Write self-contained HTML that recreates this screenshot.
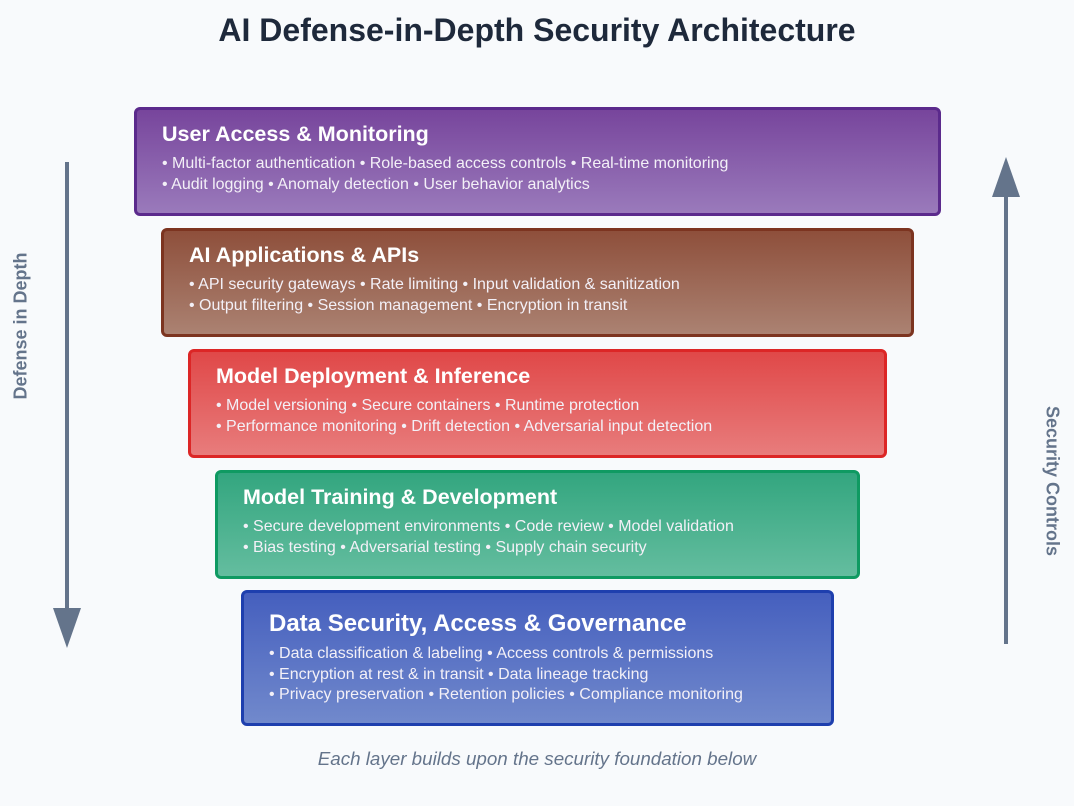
<!DOCTYPE html>
<html><head><style>
body{margin:0;width:1074px;height:806px;background:#f8fafc;font-family:"Liberation Sans",sans-serif;position:relative;overflow:hidden}
.t{position:absolute;left:0;width:1074px;text-align:center;top:12px;font-size:32px;font-weight:bold;color:#1e293b}
.b{position:absolute;box-sizing:border-box;border:3px solid;border-radius:6px;color:#fff}
.b h2{position:absolute;left:25px;top:12px;margin:0;font-size:21.5px;font-weight:bold;white-space:nowrap}
.b p{position:absolute;left:25px;margin:0;font-size:16px;line-height:20.5px;white-space:nowrap;color:#f3f0f7}
.f{position:absolute;left:0;width:1074px;text-align:center;top:748px;font-size:18.8px;font-style:italic;color:#64748b}
.v{position:absolute;font-size:18px;font-weight:bold;color:#64748b;white-space:nowrap}
</style></head><body>
<div class="t">AI Defense-in-Depth Security Architecture</div>
<svg width="1074" height="806" style="position:absolute;left:0;top:0">
<line x1="67" y1="162" x2="67" y2="612" stroke="#64748b" stroke-width="4"/>
<polygon points="53,608 81,608 67,648" fill="#64748b"/>
<line x1="1006" y1="192" x2="1006" y2="644" stroke="#64748b" stroke-width="4"/>
<polygon points="992,197 1020,197 1006,157" fill="#64748b"/>
</svg>
<div class="v" style="left:21px;top:326px;transform:translate(-50%,-50%) rotate(-90deg)">Defense in Depth</div>
<div class="v" style="left:1052px;top:481px;transform:translate(-50%,-50%) rotate(90deg)">Security Controls</div>

<div class="b" style="left:134px;top:107px;width:807px;height:109px;border-color:#5b2a8c;background:linear-gradient(#77459c,#9a7abb)">
<h2>User Access &amp; Monitoring</h2>
<p style="top:44px">• Multi-factor authentication • Role-based access controls • Real-time monitoring<br>• Audit logging • Anomaly detection • User behavior analytics</p></div>

<div class="b" style="left:161px;top:228px;width:753px;height:109px;border-color:#7c3420;background:linear-gradient(#8e4f3b,#ab8272)">
<h2>AI Applications &amp; APIs</h2>
<p style="top:44px">• API security gateways • Rate limiting • Input validation &amp; sanitization<br>• Output filtering • Session management • Encryption in transit</p></div>

<div class="b" style="left:188px;top:349px;width:699px;height:109px;border-color:#dc2626;background:linear-gradient(#e04848,#e87c7c)">
<h2>Model Deployment &amp; Inference</h2>
<p style="top:44px">• Model versioning • Secure containers • Runtime protection<br>• Performance monitoring • Drift detection • Adversarial input detection</p></div>

<div class="b" style="left:215px;top:470px;width:645px;height:109px;border-color:#0f9a62;background:linear-gradient(#33a67f,#64bd9f)">
<h2>Model Training &amp; Development</h2>
<p style="top:44px">• Secure development environments • Code review • Model validation<br>• Bias testing • Adversarial testing • Supply chain security</p></div>

<div class="b" style="left:241px;top:590px;width:593px;height:136px;border-color:#1e3fae;background:linear-gradient(#455fbe,#7189cc)">
<h2 style="font-size:24px;top:17px">Data Security, Access &amp; Governance</h2>
<p style="top:51px">• Data classification &amp; labeling • Access controls &amp; permissions<br>• Encryption at rest &amp; in transit • Data lineage tracking<br>• Privacy preservation • Retention policies • Compliance monitoring</p></div>

<div class="f">Each layer builds upon the security foundation below</div>
</body></html>
